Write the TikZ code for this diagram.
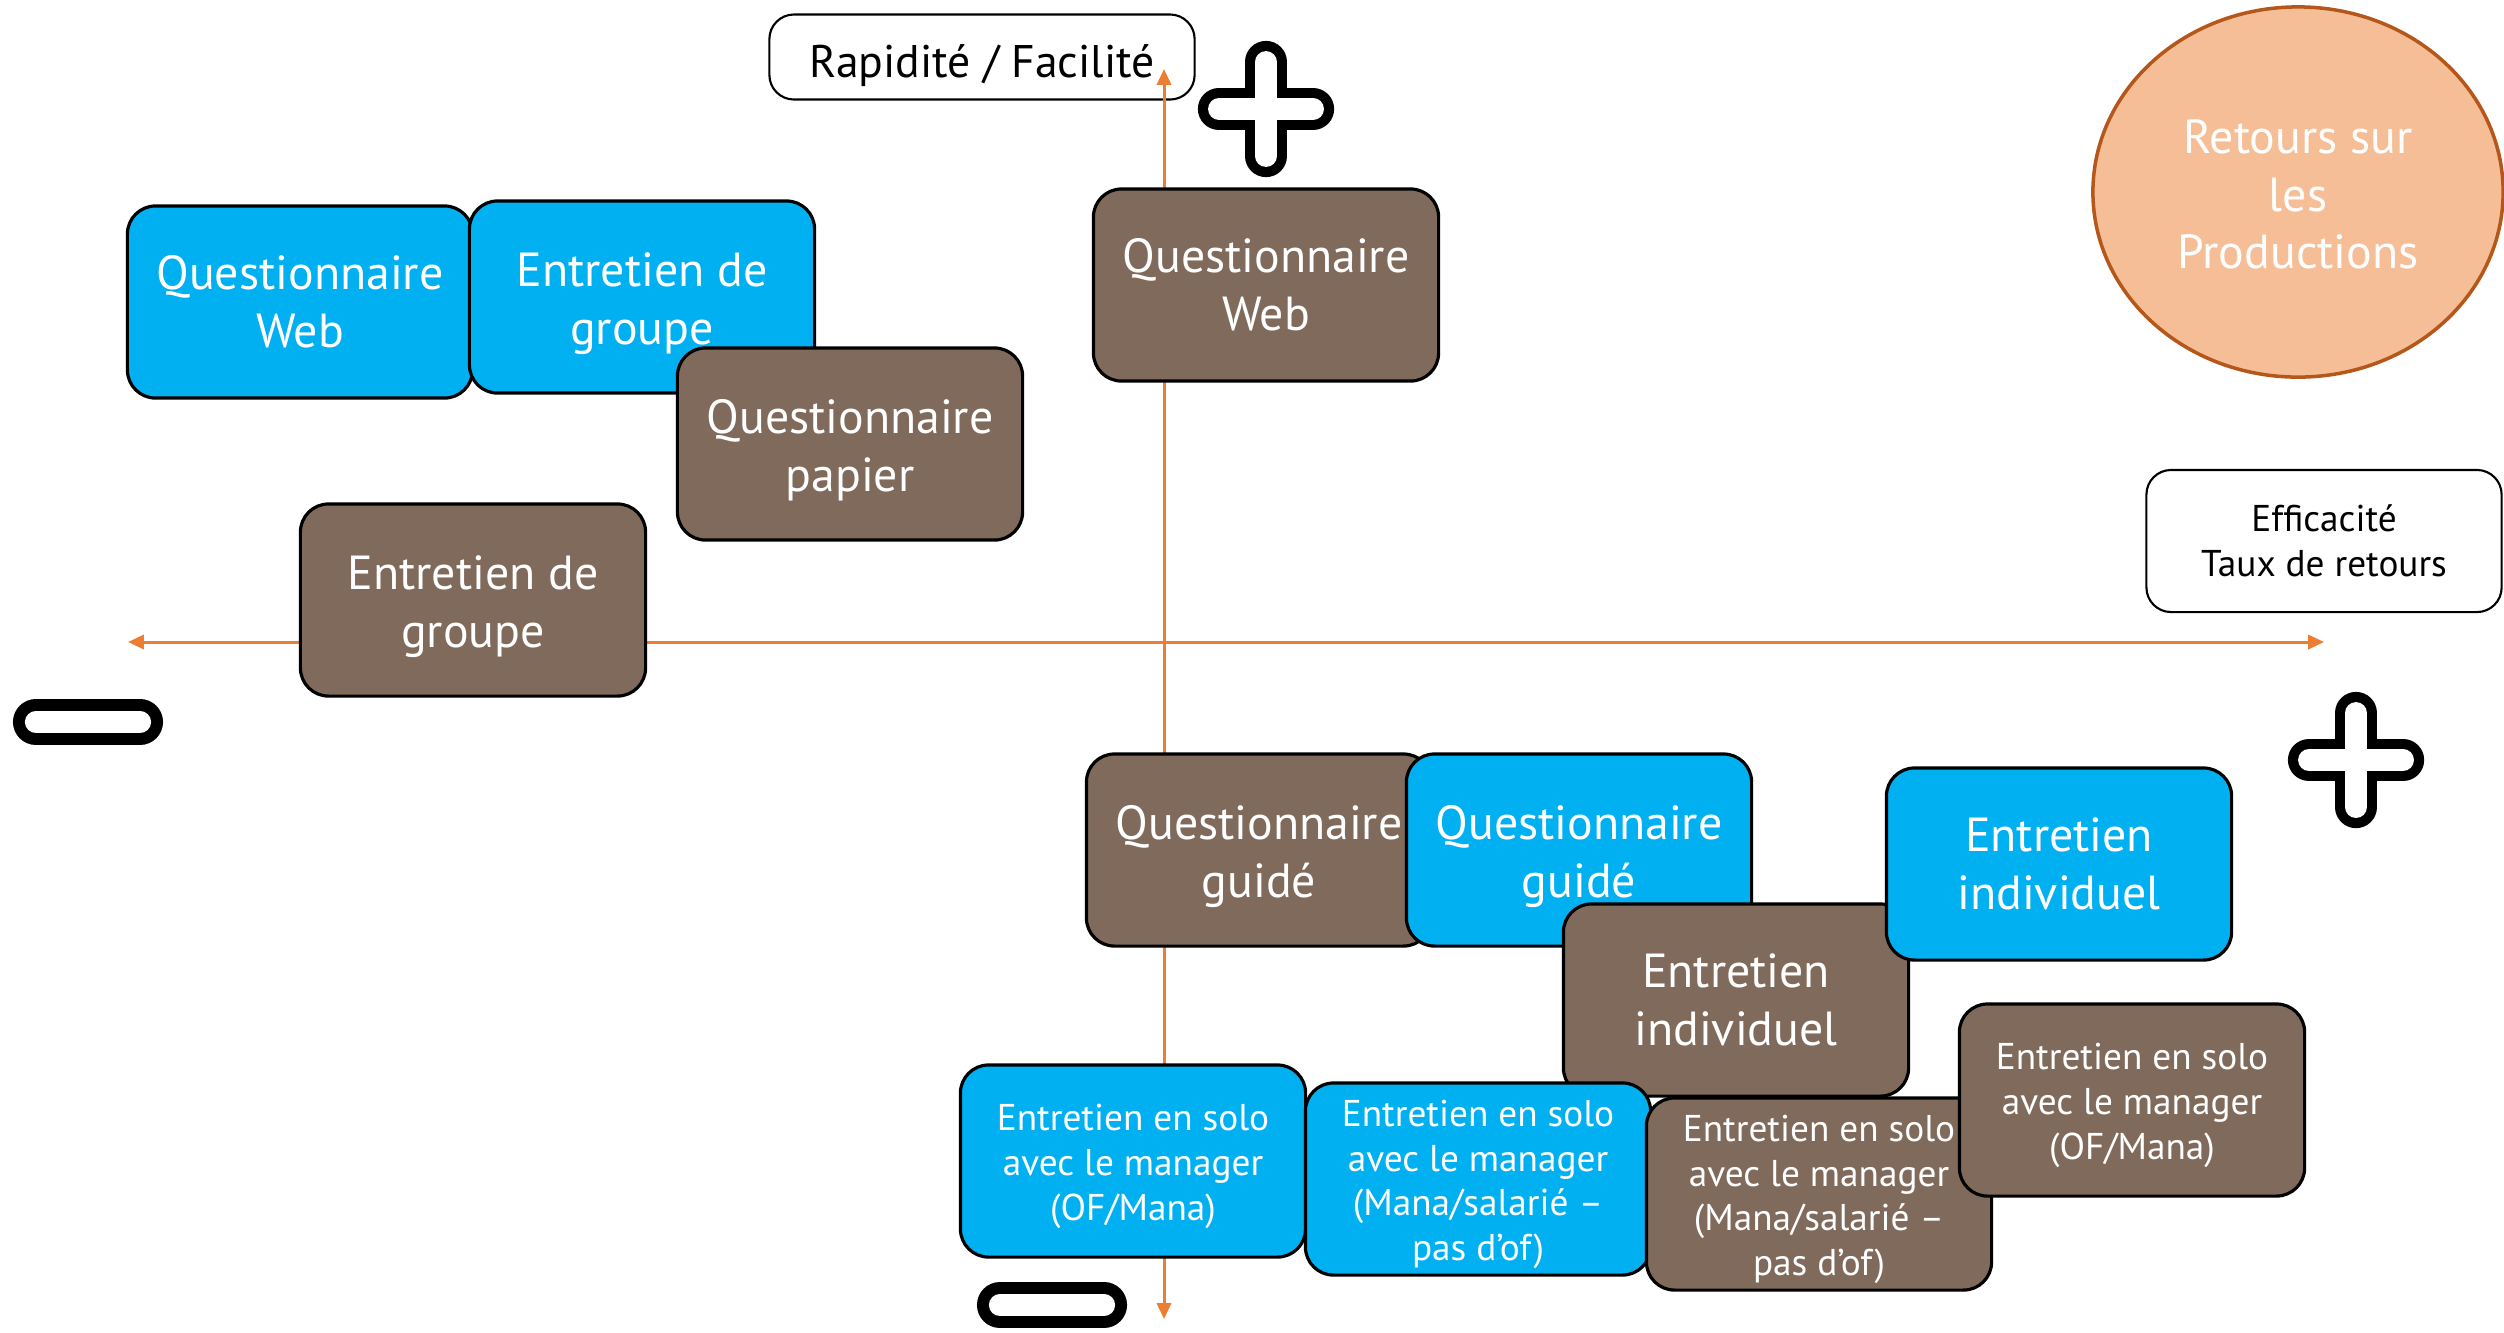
\documentclass[tikz,border=0pt]{standalone}
\usepackage{fontspec}
\setmainfont{PT Sans}
\usetikzlibrary{arrows.meta,shapes.geometric}
\definecolor{bblue}{HTML}{00B0F0}
\definecolor{bbrown}{HTML}{7F6A5B}
\definecolor{axorange}{HTML}{ED7D31}
\definecolor{peach}{HTML}{F6BE96}
\definecolor{peachline}{HTML}{B5561A}
\newcommand\bxfont{\fontsize{13.6}{16.4}\selectfont}
\newcommand\smfont{\fontsize{10.6}{12.7}\selectfont}
\newcommand\bgs{\rule{0pt}{13.4pt}}
\newcommand\sms{\rule{0pt}{10.6pt}}
\tikzset{
  card/.style={rounded corners=8pt, draw=black, line width=0.9pt, minimum width=3.45cm, minimum height=1.92cm, align=center, text=white, font=\bxfont, inner sep=0pt},
  bluecard/.style={card, fill=bblue},
  browncard/.style={card, fill=bbrown},
  smalltext/.style={font=\smfont},
  labelbox/.style={rounded corners=7pt, draw=black, line width=0.6pt, fill=white, align=center, text=black, inner sep=0pt},
  axis/.style={draw=axorange, line width=0.85pt, {Triangle[length=4.5pt,width=4pt]}-{Triangle[length=4.5pt,width=4pt]}},
  signout/.style={draw=black, line width=12pt, line cap=round},
  signin/.style={draw=white, line width=6.2pt, line cap=round},
}
\begin{document}
\begin{tikzpicture}[x=0.01cm, y=-0.01cm]
\useasboundingbox (0,0) rectangle (2504,1332);
% label box top
\node[labelbox, minimum width=4.25cm, minimum height=0.85cm, font=\fontsize{13}{15.6}\selectfont, text height=14pt, text depth=2.2pt] (rap) at (982,57) {Rapidité / Facilité};
% axes
\coordinate (hl) at (128,642);
\coordinate (hr) at (2324,642);
\coordinate (vt) at (1164,69);
\coordinate (vb) at (1164,1319);
\draw[axis] (hl) -- (hr);
\draw[axis] (vb) -- (vt);
% circle
\node[ellipse, draw=peachline, line width=1pt, fill=peach, minimum width=4.1cm, minimum height=3.7cm, text=white, font=\bxfont, align=center, inner sep=0pt] (ret) at (2298,192) {\rule{0pt}{11pt}Retours sur\\les\\Productions};
% efficacite box
\node[labelbox, minimum width=3.55cm, minimum height=1.42cm, font=\smfont] (eff) at (2324,541) {Efficacité\\Taux de retours};
% plus signs
\coordinate (p1) at (1266,109);
\coordinate (p2) at (2356,760);
\foreach \c in {p1,p2}{
  \draw[signout] ([xshift=-0.47cm]\c) -- ([xshift=0.47cm]\c);
  \draw[signout] ([yshift=-0.47cm]\c) -- ([yshift=0.47cm]\c);
}
\foreach \c in {p1,p2}{
  \draw[signin] ([xshift=-0.47cm]\c) -- ([xshift=0.47cm]\c);
  \draw[signin] ([yshift=-0.47cm]\c) -- ([yshift=0.47cm]\c);
}
% minus signs
\coordinate (m1) at (88,722);
\coordinate (m2) at (1052,1305);
\foreach \c in {m1,m2}{
  \draw[draw=black, line width=13.1pt, line cap=round] ([xshift=-0.52cm]\c) -- ([xshift=0.52cm]\c);
  \draw[draw=white, line width=6.3pt, line cap=round] ([xshift=-0.52cm]\c) -- ([xshift=0.52cm]\c);
}
% upper-left cards
\node[bluecard] (qweb1) at (300,302) {Questionnaire\\Web};
\node[bluecard] (egr1) at (642,297) {\bgs Entretien de\\groupe};
\node[browncard] (qpap) at (850,444) {\bgs Questionnaire\\papier};
\node[browncard] (qweb2) at (1266,285) {Questionnaire\\Web};
\node[browncard] (egr2) at (473,600) {\bgs Entretien de\\groupe};
% lower cards
\node[browncard] (qgui2) at (1259,850) {\bgs Questionnaire\\guidé};
\node[bluecard] (qgui1) at (1579,850) {\bgs Questionnaire\\guidé};
\node[browncard] (eind2) at (1736,1000) {Entretien\\individuel};
\node[bluecard] (eind1) at (2059,864) {Entretien\\individuel};
\node[bluecard, smalltext] (solo1) at (1133,1161) {\sms Entretien en solo\\avec le manager\\(OF/Mana)};
\node[bluecard, smalltext] (solo2) at (1478,1179) {\sms Entretien en solo\\avec le manager\\(Mana/salarié –\\pas d’of)};
\node[browncard, smalltext] (solo3) at (1819,1194) {\sms Entretien en solo\\avec le manager\\(Mana/salarié –\\pas d’of)};
\node[browncard, smalltext] (solo4) at (2132,1100) {\sms Entretien en solo\\avec le manager\\(OF/Mana)};
\end{tikzpicture}
\end{document}
